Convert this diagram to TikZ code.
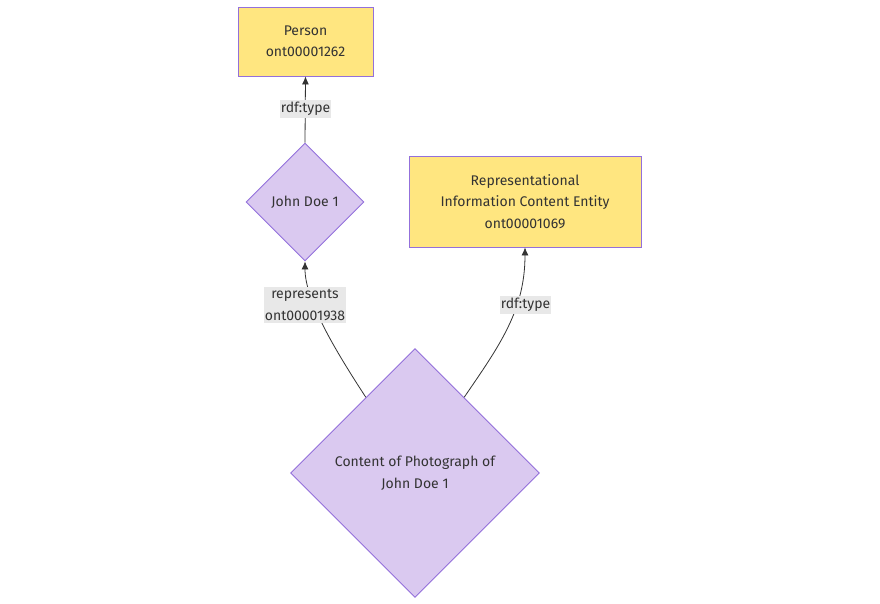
\documentclass[tikz,border=0pt]{standalone}
\usepackage{fontspec}
\setmainfont{Fira Sans}
\usepackage{tikz}
\usetikzlibrary{arrows.meta,shapes.geometric,positioning}
\definecolor{boxfill}{HTML}{FFE680}
\definecolor{lilac}{HTML}{DAC9F0}
\definecolor{edgestroke}{HTML}{9370DB}
\definecolor{labelbg}{HTML}{E8E8E8}
\definecolor{ink}{HTML}{333333}

\begin{document}
\begin{tikzpicture}
[x=1pt,y=-1pt,
 every node/.style={font=\fontsize{14}{21.5}\selectfont,text=ink},
 classbox/.style={rectangle,draw=edgestroke,fill=boxfill,line width=0.9pt,inner sep=0pt,align=center},
 indiv/.style={diamond,aspect=1,draw=edgestroke,fill=lilac,line width=0.9pt,inner sep=0pt,align=center},
 edgelabel/.style={fill=labelbg,inner xsep=1pt,inner ysep=2pt,align=center},
 link/.style={draw=ink,line width=0.8pt,-{Latex[length=8pt,width=7pt]}}]
\useasboundingbox (0,0) rectangle (880,604);

\node[classbox,minimum width=135pt,minimum height=69pt] (person) at (305.5,41.5)
{Person\\ont00001262};
\node[indiv,minimum width=118pt,minimum height=118pt] (jd1) at (305,202) {John Doe 1};
\node[classbox,minimum width=232pt,minimum height=91pt] (rice) at (525,201.5)
{Representational\\Information Content Entity\\ont00001069};
\node[indiv,minimum width=249pt,minimum height=249pt] (photo) at (415,473)
{Content of Photograph of\\John Doe 1};

\draw [link] (jd1.north) -- (person.south);
\draw [link] (photo.123) .. controls (335,350) and (305,300) .. (jd1.south);
\draw [link] (photo.57) .. controls (500,345) and (525,310) .. (rice.south);

\node[edgelabel] (l1) at (305.5,109) {rdf:type};
\node[edgelabel] (l2) at (305,305) {represents\\ont00001938};
\node[edgelabel] (l3) at (525.5,305) {rdf:type};
\end{tikzpicture}
\end{document}
